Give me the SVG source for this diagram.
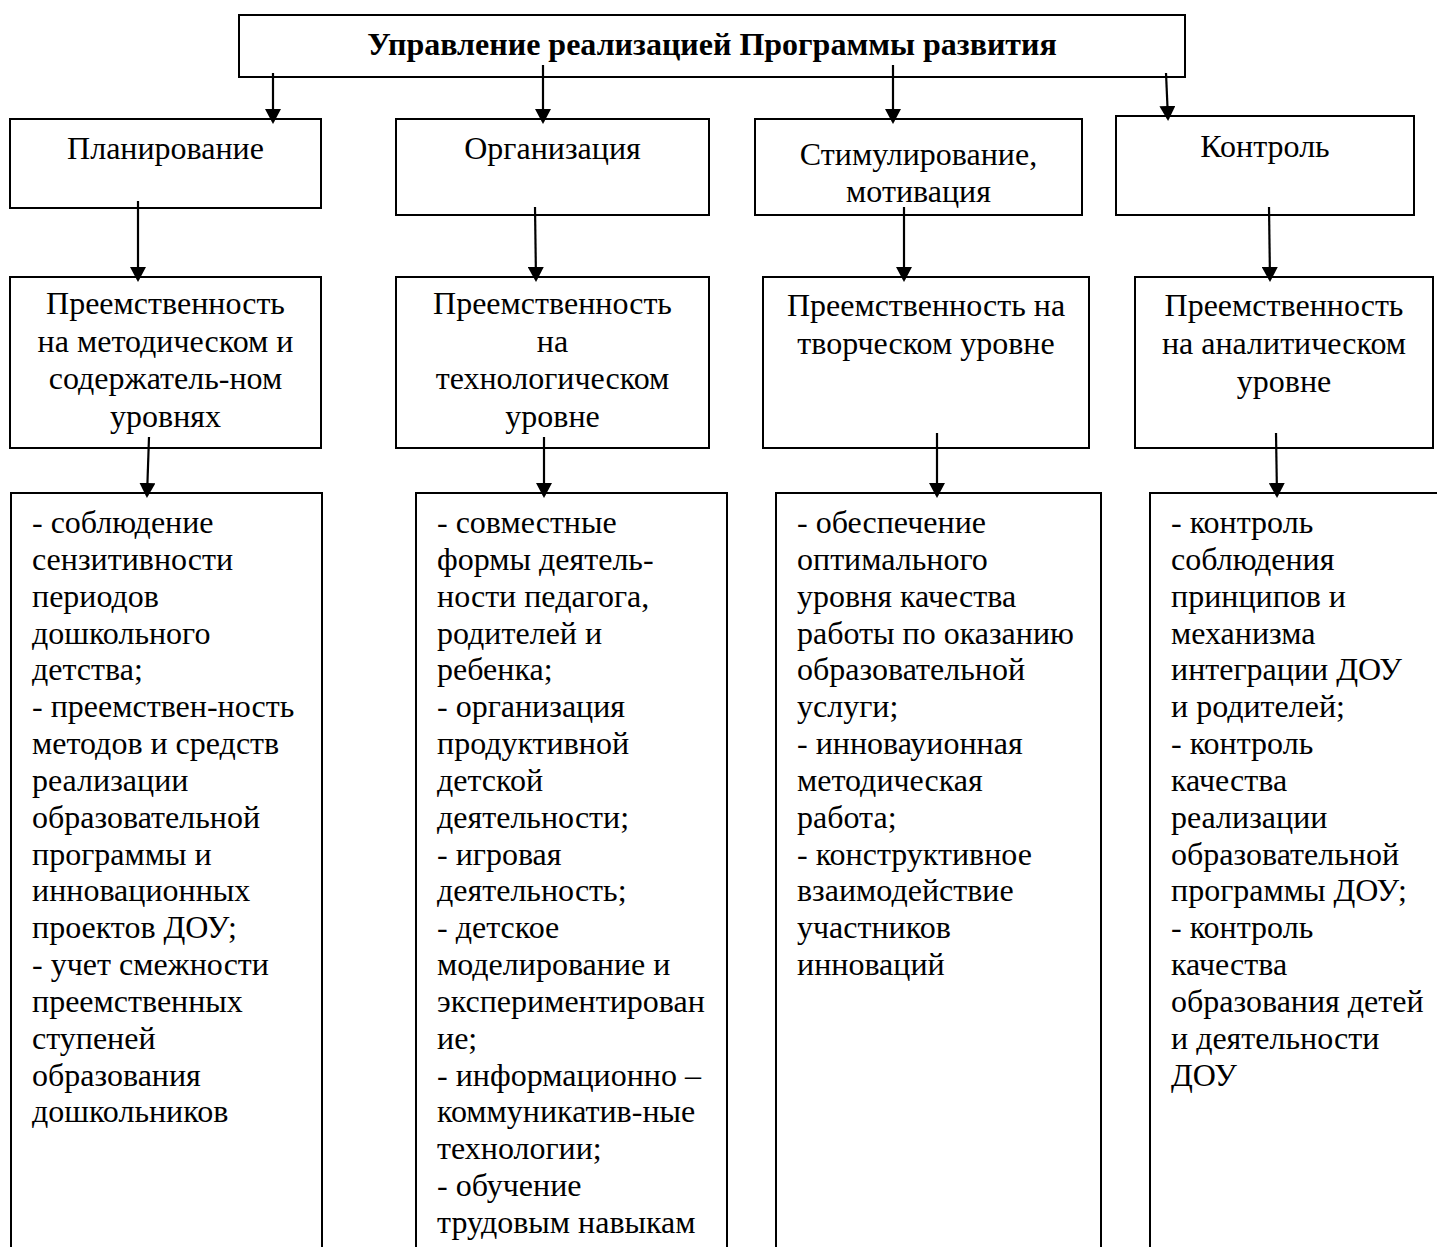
<svg xmlns="http://www.w3.org/2000/svg" width="1437" height="1247" viewBox="0 0 1437 1247">
<defs>
<style>
.box{fill:#fff;stroke:#000;stroke-width:2}
.t{font-family:"Liberation Serif","Times New Roman",serif;font-size:32px;fill:#000}
.c{text-anchor:middle}
.b{font-weight:bold}
.con line{stroke:#000;stroke-width:2.2;marker-end:url(#ah)}
</style>
<marker id="ah" viewBox="0 0 15 16" markerUnits="userSpaceOnUse" markerWidth="15" markerHeight="16" refX="13" refY="8" orient="auto">
<path d="M0,0 L15,8 L0,16 z" fill="#000"/>
</marker>
</defs>
<rect width="1437" height="1247" fill="#fff"/>

<g id="title">
<rect class="box" x="239" y="15" width="946" height="62"/>
<text class="t c b" x="712" y="55">Управление реализацией Программы развития</text>
</g>

<g id="plan">
<rect class="box" x="10" y="119" width="311" height="89"/>
<text class="t c" x="165.5" y="159">Планирование</text>
</g>
<g id="org">
<rect class="box" x="396" y="119" width="313" height="96"/>
<text class="t c" x="552.5" y="159">Организация</text>
</g>
<g id="stim">
<rect class="box" x="755" y="119" width="327" height="96"/>
<text class="t c" x="918.5" y="165">Стимулирование,</text>
<text class="t c" x="918.5" y="202">мотивация</text>
</g>
<g id="ctrl">
<rect class="box" x="1116" y="116" width="298" height="99"/>
<text class="t c" x="1265" y="157">Контроль</text>
</g>

<g id="pr1">
<rect class="box" x="10" y="277" width="311" height="171"/>
<text class="t c" x="165.5" y="314">Преемственность</text>
<text class="t c" x="165.5" y="352">на методическом и</text>
<text class="t c" x="165.5" y="389">содержатель-ном</text>
<text class="t c" x="165.5" y="427">уровнях</text>
</g>
<g id="pr2">
<rect class="box" x="396" y="277" width="313" height="171"/>
<text class="t c" x="552.5" y="314">Преемственность</text>
<text class="t c" x="552.5" y="352">на</text>
<text class="t c" x="552.5" y="389">технологическом</text>
<text class="t c" x="552.5" y="427">уровне</text>
</g>
<g id="pr3">
<rect class="box" x="763" y="277" width="326" height="171"/>
<text class="t c" x="926" y="316">Преемственность на</text>
<text class="t c" x="926" y="354">творческом уровне</text>
</g>
<g id="pr4">
<rect class="box" x="1135" y="277" width="298" height="171"/>
<text class="t c" x="1284" y="316">Преемственность</text>
<text class="t c" x="1284" y="354">на аналитическом</text>
<text class="t c" x="1284" y="392">уровне</text>
</g>

<g id="list1">
<rect class="box" x="11" y="493" width="311" height="780"/>
<text class="t" x="32" y="533">
<tspan x="32" dy="0">- соблюдение</tspan>
<tspan x="32" dy="36.84">сензитивности</tspan>
<tspan x="32" dy="36.84">периодов</tspan>
<tspan x="32" dy="36.84">дошкольного</tspan>
<tspan x="32" dy="36.84">детства;</tspan>
<tspan x="32" dy="36.84">- преемствен-ность</tspan>
<tspan x="32" dy="36.84">методов и средств</tspan>
<tspan x="32" dy="36.84">реализации</tspan>
<tspan x="32" dy="36.84">образовательной</tspan>
<tspan x="32" dy="36.84">программы и</tspan>
<tspan x="32" dy="36.84">инновационных</tspan>
<tspan x="32" dy="36.84">проектов ДОУ;</tspan>
<tspan x="32" dy="36.84">- учет смежности</tspan>
<tspan x="32" dy="36.84">преемственных</tspan>
<tspan x="32" dy="36.84">ступеней</tspan>
<tspan x="32" dy="36.84">образования</tspan>
<tspan x="32" dy="36.84">дошкольников</tspan>
</text>
</g>
<g id="list2">
<rect class="box" x="416" y="493" width="311" height="780"/>
<text class="t" x="437" y="533">
<tspan x="437" dy="0">- совместные</tspan>
<tspan x="437" dy="36.84">формы деятель-</tspan>
<tspan x="437" dy="36.84">ности педагога,</tspan>
<tspan x="437" dy="36.84">родителей и</tspan>
<tspan x="437" dy="36.84">ребенка;</tspan>
<tspan x="437" dy="36.84">- организация</tspan>
<tspan x="437" dy="36.84">продуктивной</tspan>
<tspan x="437" dy="36.84">детской</tspan>
<tspan x="437" dy="36.84">деятельности;</tspan>
<tspan x="437" dy="36.84">- игровая</tspan>
<tspan x="437" dy="36.84">деятельность;</tspan>
<tspan x="437" dy="36.84">- детское</tspan>
<tspan x="437" dy="36.84">моделирование и</tspan>
<tspan x="437" dy="36.84">экспериментирован</tspan>
<tspan x="437" dy="36.84">ие;</tspan>
<tspan x="437" dy="36.84">- информационно –</tspan>
<tspan x="437" dy="36.84">коммуникатив-ные</tspan>
<tspan x="437" dy="36.84">технологии;</tspan>
<tspan x="437" dy="36.84">- обучение</tspan>
<tspan x="437" dy="36.84">трудовым навыкам</tspan>
</text>
</g>
<g id="list3">
<rect class="box" x="776" y="493" width="325" height="780"/>
<text class="t" x="797" y="533">
<tspan x="797" dy="0">- обеспечение</tspan>
<tspan x="797" dy="36.84">оптимального</tspan>
<tspan x="797" dy="36.84">уровня качества</tspan>
<tspan x="797" dy="36.84">работы по оказанию</tspan>
<tspan x="797" dy="36.84">образовательной</tspan>
<tspan x="797" dy="36.84">услуги;</tspan>
<tspan x="797" dy="36.84">- инновауионная</tspan>
<tspan x="797" dy="36.84">методическая</tspan>
<tspan x="797" dy="36.84">работа;</tspan>
<tspan x="797" dy="36.84">- конструктивное</tspan>
<tspan x="797" dy="36.84">взаимодействие</tspan>
<tspan x="797" dy="36.84">участников</tspan>
<tspan x="797" dy="36.84">инноваций</tspan>
</text>
</g>
<g id="list4">
<rect class="box" x="1150" y="493" width="320" height="780"/>
<text class="t" x="1171" y="533">
<tspan x="1171" dy="0">- контроль</tspan>
<tspan x="1171" dy="36.84">соблюдения</tspan>
<tspan x="1171" dy="36.84">принципов и</tspan>
<tspan x="1171" dy="36.84">механизма</tspan>
<tspan x="1171" dy="36.84">интеграции ДОУ</tspan>
<tspan x="1171" dy="36.84">и родителей;</tspan>
<tspan x="1171" dy="36.84">- контроль</tspan>
<tspan x="1171" dy="36.84">качества</tspan>
<tspan x="1171" dy="36.84">реализации</tspan>
<tspan x="1171" dy="36.84">образовательной</tspan>
<tspan x="1171" dy="36.84">программы ДОУ;</tspan>
<tspan x="1171" dy="36.84">- контроль</tspan>
<tspan x="1171" dy="36.84">качества</tspan>
<tspan x="1171" dy="36.84">образования детей</tspan>
<tspan x="1171" dy="36.84">и деятельности</tspan>
<tspan x="1171" dy="36.84">ДОУ</tspan>
</text>
</g>

<g id="connectors" class="con">
<line x1="273" y1="73" x2="273" y2="122"/>
<line x1="543" y1="65" x2="543" y2="122"/>
<line x1="893" y1="65" x2="893" y2="122"/>
<line x1="1166" y1="73" x2="1168" y2="119"/>
<line x1="138" y1="201" x2="138" y2="280"/>
<line x1="535" y1="207" x2="536" y2="280"/>
<line x1="904" y1="207" x2="904" y2="280"/>
<line x1="1269" y1="207" x2="1270" y2="280"/>
<line x1="149" y1="437" x2="147" y2="496"/>
<line x1="544" y1="437" x2="544" y2="496"/>
<line x1="937" y1="433" x2="937" y2="496"/>
<line x1="1276" y1="433" x2="1277" y2="496"/>
</g>
</svg>
